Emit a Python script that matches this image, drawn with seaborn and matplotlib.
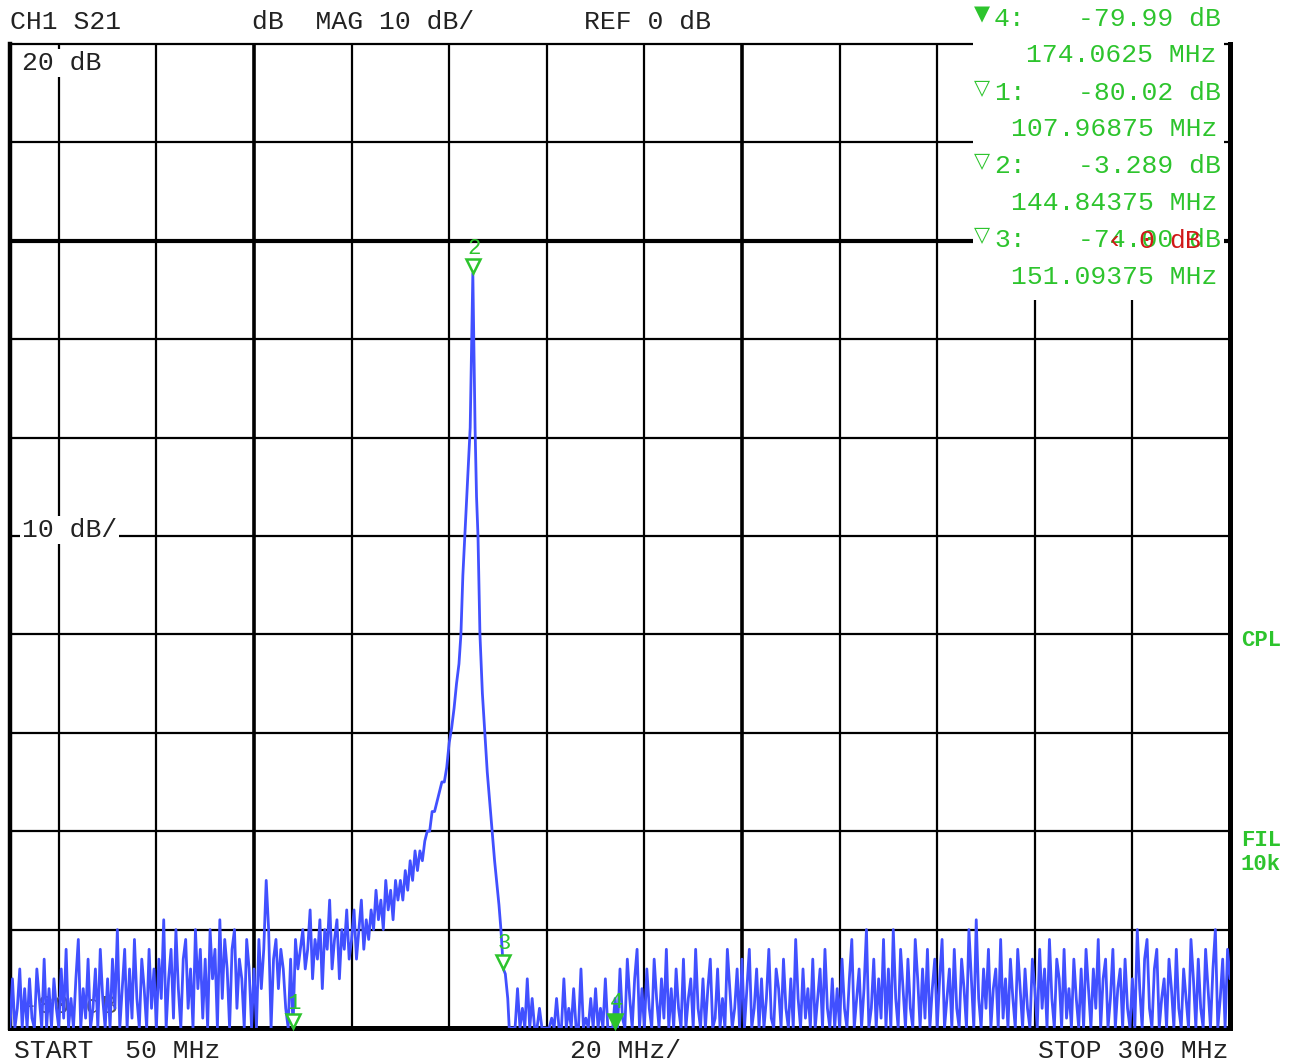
import numpy as np
import pandas as pd
import matplotlib
matplotlib.use("Agg")
import matplotlib.pyplot as plt
import matplotlib.transforms as mtransforms
from matplotlib.patches import Rectangle
import seaborn as sns

# S21 sweep, 50 - 300 MHz, values in dB
STEP = 0.5

# 50.0 .. 138.5 MHz (noise floor, then the lower skirt)
LOW_START = 50.0
low_db = [
    -80, -75, -80, -78, -74, -80, -76, -80, -75, -79, -80, -74, -77, -80, -73, -80, -76, -80, -75, -78,
    -80, -74, -79, -72, -80, -77, -80, -75, -71, -80, -76, -79, -73, -80, -78, -74, -80, -72, -77, -80,
    -75, -80, -73, -78, -70, -80, -76, -72, -80, -74, -79, -71, -77, -80, -73, -76, -80, -72, -78, -74,
    -80, -73, -77, -69, -80, -75, -72, -79, -70, -76, -80, -73, -71, -78, -74, -80, -70, -76, -72, -79,
    -73, -80, -70, -75, -72, -80, -69, -77, -71, -74, -80, -72, -70, -78, -73, -75, -80, -71, -74, -80,
    -74, -80, -71, -76, -72, -65, -70, -80, -73, -71, -76, -72, -74, -78, -80, -73, -80, -71, -74, -72,
    -70, -74, -72, -68, -75, -71, -73, -69, -76, -70, -72, -67, -74, -71, -69, -75, -70, -72, -68, -73,
    -71, -68, -73, -70, -67, -72, -69, -71, -68, -70, -66, -69, -67, -70, -65, -68, -66, -69, -65, -67,
    -65, -67, -64, -66, -63, -65, -62, -64, -62, -63, -61, -60, -60, -58, -58, -57, -56, -55,
]

# resonance around marker 2
peak_freq = [
    139.0, 139.5, 140.0, 140.5, 141.0, 141.5, 142.0, 142.4, 142.8, 143.2, 143.6, 144.0, 144.3, 144.6,
    144.84375, 145.1, 145.3, 145.6, 145.9, 146.3, 146.8, 147.3, 147.8, 148.3, 148.8, 149.3, 149.8,
    150.2, 150.6, 151.09375, 151.5, 152.0, 152.3, 153.0,
]
peak_db = [
    -55, -53.5, -51, -49.5, -47.5, -45, -43, -40, -34, -30, -26, -22, -19, -10,
    -3.289, -12, -19, -26, -30, -40, -46, -50, -54, -57, -60, -63, -65.5,
    -67.5, -70, -74.0, -74.5, -77, -80, -80,
]

# 153.5 .. 300.0 MHz (noise floor above the filter)
HIGH_START = 153.5
high_db = [
    -80, -76, -80, -78, -80, -75, -80, -77, -80, -80, -78, -80, -80,
    -80, -80, -79, -80, -77, -80, -80, -75, -80, -78, -80, -76, -80, -80, -74, -80, -79, -80, -77, -80,
    -76, -80, -78, -80, -75, -80, -80, -80, -77, -80, -74, -79, -80, -73, -77, -80, -75, -72, -80, -76,
    -80, -74, -78, -80, -73, -77, -80, -75, -79, -72, -80, -76, -80, -74, -78, -80, -73, -80, -77, -75,
    -80, -72, -78, -80, -75, -80, -76, -73, -80, -79, -74, -80, -77, -80, -72, -76, -80, -78, -74, -80,
    -73, -80, -76, -72, -80, -78, -74, -80, -75, -80, -77, -72, -79, -80, -74, -76, -80, -73, -78, -80,
    -75, -80, -71, -77, -80, -74, -79, -76, -80, -73, -80, -77, -74, -80, -72, -78, -80, -75, -80, -76,
    -80, -73, -78, -80, -75, -71, -80, -77, -74, -80, -76, -70, -80, -78, -73, -80, -75, -79, -71, -80,
    -74, -80, -70, -77, -80, -72, -76, -80, -73, -78, -80, -71, -75, -80, -74, -79, -72, -80, -76, -73,
    -80, -75, -71, -80, -77, -74, -80, -72, -78, -80, -73, -76, -80, -70, -75, -80, -69, -77, -80, -74,
    -78, -72, -80, -76, -74, -80, -71, -79, -75, -80, -73, -77, -80, -72, -76, -80, -74, -78, -80, -73,
    -76, -80, -72, -78, -74, -80, -71, -77, -80, -73, -75, -80, -72, -79, -76, -80, -73, -77, -80, -74,
    -80, -72, -76, -80, -74, -78, -71, -80, -75, -73, -80, -77, -72, -80, -76, -74, -80, -73, -78, -80,
    -75, -80, -70, -76, -80, -73, -71, -78, -80, -74, -72, -80, -77, -75, -80, -73, -76, -80, -72, -78,
    -80, -74, -77, -80, -71, -75, -80, -73, -78, -80, -72, -76, -80, -74, -70, -80, -77, -73, -80, -72, -75,
]

marker_ids = ["1", "2", "3", "4"]
marker_freq = [107.96875, 144.84375, 151.09375, 174.0625]
marker_db = [-80.02, -3.289, -74.00, -79.99]
marker_readout = ["-80.02", "-3.289", "-74.00", "-79.99"]
marker_active = [False, False, False, True]
readout_order = [3, 0, 1, 2]

TRACE_BLUE = "#4150FF"
GREEN = "#2DC42D"
W, H = 1296, 1063

freq = np.concatenate([
    LOW_START + STEP * np.arange(len(low_db)),
    np.array(peak_freq),
    HIGH_START + STEP * np.arange(len(high_db)),
])
trace = pd.DataFrame({"freq_mhz": freq, "s21_db": low_db + peak_db + high_db})

sns.set_style("white")
plt.rcParams["font.family"] = ["Liberation Mono", "DejaVu Sans"]

fig = plt.figure(figsize=(W / 100, H / 100), dpi=100)
ax = fig.add_axes([10 / W, 1 - 1028 / H, 1220 / W, 984 / H])


def fx(px):
    return px / W


def fy(py):
    return 1 - py / H


# graticule: 20 MHz/div, 10 dB/div
for f in range(60, 300, 20):
    ax.axvline(f, color="black", lw=2.6 if f in (100, 200) else 1.6, zorder=1)
for d in range(-70, 20, 10):
    ax.axhline(d, color="black", lw=3.0 if d == 0 else 1.6, zorder=1)

ax.text(fx(22), fy(1006), "-80 dB", transform=fig.transFigure, fontsize=19,
        color="#555555", va="center", ha="left", zorder=1)

sns.lineplot(data=trace, x="freq_mhz", y="s21_db", sort=False, estimator=None,
             color=TRACE_BLUE, linewidth=2.0, ax=ax, zorder=3)

# marker symbols sitting on the trace
tri_tf = mtransforms.offset_copy(ax.transData, fig=fig, x=0, y=7, units="dots")
lbl_tf = mtransforms.offset_copy(ax.transData, fig=fig, x=1, y=25, units="dots")
for mid, f, d, act in zip(marker_ids, marker_freq, marker_db, marker_active):
    ax.plot([f], [d], marker="v", ms=10, mew=1.8, mec=GREEN,
            mfc=GREEN if act else "white", transform=tri_tf, zorder=5, clip_on=False)
    ax.text(f, d, mid, transform=lbl_tf, color=GREEN, fontsize=16,
            ha="center", va="center", zorder=5)

ax.set_xlim(50, 300)
ax.set_ylim(-80, 20)
ax.set_xticks([])
ax.set_yticks([])
ax.set_xlabel("")
ax.set_ylabel("")
for side, lw in (("left", 3.2), ("bottom", 3.6), ("right", 3.6), ("top", 1.6)):
    ax.spines[side].set_visible(True)
    ax.spines[side].set_color("black")
    ax.spines[side].set_linewidth(lw)

# marker readout panel
fig.add_artist(Rectangle((fx(973), fy(300)), (1224 - 973) / W, 300 / H,
                         transform=fig.transFigure, facecolor="white",
                         edgecolor="none", zorder=2))
for k, i in enumerate(readout_order):
    yv = 19 + 73.7 * k
    glyph = "\u25bc" if marker_active[i] else "\u25bd"
    fig.text(fx(982), fy(yv - 5), glyph, color=GREEN, fontsize=15, family="DejaVu Sans",
             fontweight="bold", ha="center", va="center", zorder=3)
    fig.text(fx(994), fy(yv), marker_ids[i] + ":", color=GREEN, fontsize=19,
             ha="left", va="center", zorder=3)
    fig.text(fx(1221), fy(yv), marker_readout[i] + " dB", color=GREEN, fontsize=19,
             ha="right", va="center", zorder=3)
    ftxt = f"{marker_freq[i]:.5f}".rstrip("0")
    fig.text(fx(1217), fy(yv + 36.5), ftxt + " MHz", color=GREEN, fontsize=19,
             ha="right", va="center", zorder=3)

# limit line readout overlapping marker 3 (overlap as on the instrument screen)
for txt, xp in (("\u2039", 1114), ("0", 1146), ("dB", 1185)):
    fig.text(fx(xp), fy(241), txt, color="#D01818", fontsize=19,
             family=["Liberation Mono", "DejaVu Sans"], ha="center", va="center", zorder=4)

# header and footer annotations
fig.text(fx(10), fy(22), "CH1 S21", fontsize=19, color="#222222", ha="left", va="center")
fig.text(fx(252), fy(22), "dB  MAG 10 dB/", fontsize=19, color="#222222", ha="left", va="center")
fig.text(fx(584), fy(22), "REF 0 dB", fontsize=19, color="#222222", ha="left", va="center")

box = dict(facecolor="white", edgecolor="none", pad=1.5)
fig.text(fx(22), fy(63), "20 dB", fontsize=19, color="#222222", ha="left", va="center", bbox=box)
fig.text(fx(22), fy(530), "10 dB/", fontsize=19, color="#222222", ha="left", va="center", bbox=box)

fig.text(fx(14), fy(1051), "START  50 MHz", fontsize=19, color="#222222", ha="left", va="center")
fig.text(fx(570), fy(1051), "20 MHz/", fontsize=19, color="#222222", ha="left", va="center")
fig.text(fx(1229), fy(1051), "STOP 300 MHz", fontsize=19, color="#222222", ha="right", va="center")

for txt, yp in (("CPL", 641), ("FIL", 840), ("10k", 865)):
    fig.text(fx(1241), fy(yp), txt, fontsize=16, fontweight="bold", color=GREEN,
             ha="left", va="center")

fig.savefig("out.png", dpi=100, facecolor="white")
